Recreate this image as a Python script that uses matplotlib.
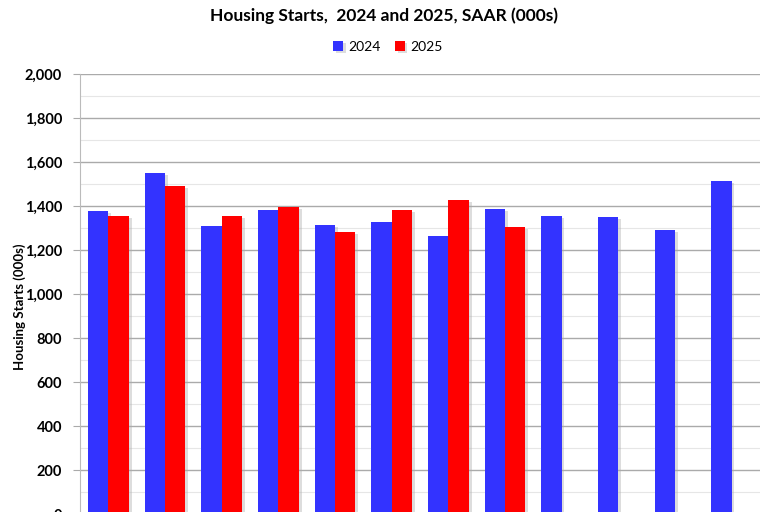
import matplotlib
matplotlib.use("Agg")
import matplotlib.pyplot as plt
import matplotlib.patheffects as pe
from matplotlib.ticker import MultipleLocator, FuncFormatter
import numpy as np

months = ["Jan", "Feb", "Mar", "Apr", "May", "Jun", "Jul", "Aug", "Sep", "Oct", "Nov", "Dec"]
starts_2024 = [1377, 1550, 1309, 1382, 1314, 1326, 1262, 1386, 1353, 1350, 1291, 1512]
starts_2025 = [1355, 1491, 1355, 1395, 1282, 1380, 1427, 1306]

plt.rcParams['font.family'] = ['Lato', 'DejaVu Sans']

fig = plt.figure(figsize=(7.68, 5.12), dpi=100)
ax = fig.add_axes([80/768, -2/512, 680/768, 440/512])

x = np.arange(len(months))
w = 0.36
shadow = [pe.SimplePatchShadow(offset=(2, -1.5), shadow_rgbFace='#AAAAAA', alpha=0.4), pe.Normal()]
b1 = ax.bar(x - w/2, starts_2024, width=w, color='#3333FF', zorder=3, label='2024')
b2 = ax.bar(np.arange(len(starts_2025)) + w/2, starts_2025, width=w, color='#FF0000', zorder=3, label='2025')
for b in list(b1) + list(b2):
    b.set_path_effects(shadow)

ax.set_xlim(-0.5, len(months) - 0.5)
ax.set_ylim(0, 2000)
ax.yaxis.set_major_locator(MultipleLocator(200))
ax.yaxis.set_minor_locator(MultipleLocator(100))
ax.yaxis.set_major_formatter(FuncFormatter(lambda v, p: f"{int(v):,}"))
ax.grid(axis='y', which='major', color='#AAAAAA', linewidth=1.0, zorder=0)
ax.grid(axis='y', which='minor', color='#E6E6E6', linewidth=0.8, zorder=0)
ax.set_axisbelow(True)
ax.set_xticks([])
for s in ['top', 'right', 'bottom']:
    ax.spines[s].set_visible(False)
ax.spines['left'].set_color('#BBBBBB')
ax.tick_params(axis='y', which='major', length=5, color='#AAAAAA', labelsize=10.5, pad=8)
ax.tick_params(axis='y', which='minor', length=0)
for lab in ax.get_yticklabels():
    lab.set_fontweight('bold')
ax.set_ylabel('Housing Starts (000s)', fontsize=9.5, fontweight='bold')
ax.yaxis.set_label_coords(-0.080, 0.47)

fig.text(0.5, 0.97, 'Housing Starts,  2024 and 2025, SAAR (000s)', ha='center', va='center',
         fontsize=12.5, fontweight='bold')
fig.legend(handles=[b1, b2], loc='center', bbox_to_anchor=(0.505, 0.908), ncol=2, frameon=False,
           fontsize=10, handlelength=0.7, handleheight=0.7, columnspacing=1.0, handletextpad=0.4)

fig.savefig('out.png', dpi=100)
